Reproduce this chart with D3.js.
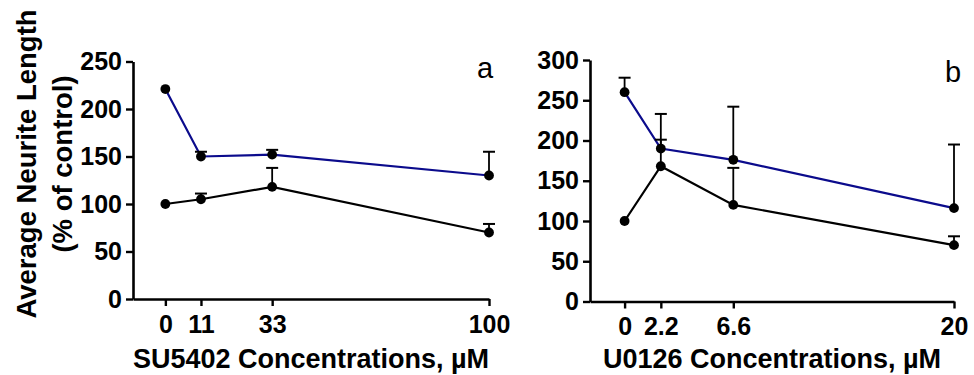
<!DOCTYPE html>
<html><head><meta charset="utf-8">
<script src="https://cdn.jsdelivr.net/npm/d3@7"></script>
<style>
html,body{margin:0;padding:0;background:#fff;}
svg{display:block;font-family:"Liberation Sans",Arial,sans-serif;}
</style></head>
<body>
<svg id="chart" width="974" height="375"></svg>
<script>
// Panel a: SU5402
const concA = [0, 11, 33, 100];
const tickLabelsA = ["0", "11", "33", "100"];
const blueA = [221, 150, 152, 130];
const blueAErr = [null, 155, 157, 155];
const blackA = [100, 105, 118, 70];
const blackAErr = [null, 111, 138, 79];

// Panel b: U0126
const concB = [0, 2.2, 6.6, 20];
const tickLabelsB = ["0", "2.2", "6.6", "20"];
const blueB = [260, 190, 176, 116];
const blueBErr = [278, 233, 242, 195];
const blackB = [100, 168, 120, 70];
const blackBErr = [null, 201, 166, 81];

const yTicksA = [0, 50, 100, 150, 200, 250];
const yTicksB = [0, 50, 100, 150, 200, 250, 300];

const svg = d3.select("#chart");
const BLUE = "#0b0b8c", BLACK = "#000";

function panel(cfg) {
  const x = d3.scaleLinear().domain(cfg.xDomain).range(cfg.xRange);
  const y = d3.scaleLinear().domain(cfg.yDomain).range(cfg.yRange);
  const g = svg.append("g");

  const ya = g.append("g").attr("transform", `translate(${cfg.xRange[0]},0)`)
    .call(d3.axisLeft(y).tickValues(cfg.yTicks).tickSize(7).tickSizeOuter(0).tickPadding(4));
  const xa = g.append("g").attr("transform", `translate(0,${cfg.yRange[0]})`)
    .call(d3.axisBottom(x).tickValues(cfg.conc).tickFormat((d, i) => cfg.tickLabels[i]).tickSize(7).tickSizeOuter(0).tickPadding(9));
  [ya, xa].forEach(a => {
    a.select(".domain").attr("stroke", "#000").attr("stroke-width", 2.6);
    a.selectAll(".tick line").attr("stroke", "#000").attr("stroke-width", 2.4);
    a.selectAll(".tick text").attr("fill", "#000").attr("font-size", 25).attr("font-weight", "bold")
      .attr("font-family", "Liberation Sans, Arial, sans-serif");
  });

  g.append("text").attr("x", (cfg.xRange[0] + cfg.xRange[1]) / 2).attr("y", 368)
    .attr("text-anchor", "middle").attr("font-size", 27).attr("font-weight", "bold")
    .text(cfg.xTitle);

  g.append("text").attr("x", cfg.letterX).attr("y", cfg.letterY)
    .attr("font-size", 29).attr("fill", "#000").text(cfg.letter);

  const line = d3.line().x((d, i) => x(cfg.conc[i])).y(d => y(d));
  const series = [
    {vals: cfg.black, err: cfg.blackErr, color: BLACK},
    {vals: cfg.blue, err: cfg.blueErr, color: BLUE}
  ];
  series.forEach(s => {
    g.append("path").datum(s.vals).attr("d", line).attr("fill", "none")
      .attr("stroke", s.color).attr("stroke-width", 2.2);
  });
  series.forEach(s => {
    s.err.forEach((e, i) => {
      if (e == null) return;
      const cx = x(cfg.conc[i]);
      g.append("line").attr("x1", cx).attr("x2", cx).attr("y1", y(s.vals[i])).attr("y2", y(e))
        .attr("stroke", "#000").attr("stroke-width", 1.8);
      g.append("line").attr("x1", cx - 6).attr("x2", cx + 6).attr("y1", y(e)).attr("y2", y(e))
        .attr("stroke", "#000").attr("stroke-width", 2);
    });
  });
  series.forEach(s => {
    g.selectAll(null).data(s.vals).enter().append("circle")
      .attr("cx", (d, i) => x(cfg.conc[i])).attr("cy", d => y(d)).attr("r", 4.9)
      .attr("fill", "#000");
  });
}

panel({
  conc: concA, tickLabels: tickLabelsA, blue: blueA, blueErr: blueAErr, black: blackA, blackErr: blackAErr,
  yTicks: yTicksA, xDomain: [-10, 100], xRange: [133, 489], yDomain: [0, 250], yRange: [299, 61.5],
  xTitle: "SU5402 Concentrations, µM", letter: "a", letterX: 477, letterY: 78
});
panel({
  conc: concB, tickLabels: tickLabelsB, blue: blueB, blueErr: blueBErr, black: blackB, blackErr: blackBErr,
  yTicks: yTicksB, xDomain: [-2.1, 20], xRange: [590, 954], yDomain: [0, 300], yRange: [301.5, 60],
  xTitle: "U0126 Concentrations, µM", letter: "b", letterX: 945, letterY: 82
});

svg.append("text").attr("transform", "translate(36,164) rotate(-90)")
  .attr("text-anchor", "middle").attr("font-size", 27.5).attr("font-weight", "bold")
  .text("Average Neurite Length");
svg.append("text").attr("transform", "translate(72,164) rotate(-90)")
  .attr("text-anchor", "middle").attr("font-size", 27.5).attr("font-weight", "bold")
  .text("(% of control)");
</script>
</body></html>
